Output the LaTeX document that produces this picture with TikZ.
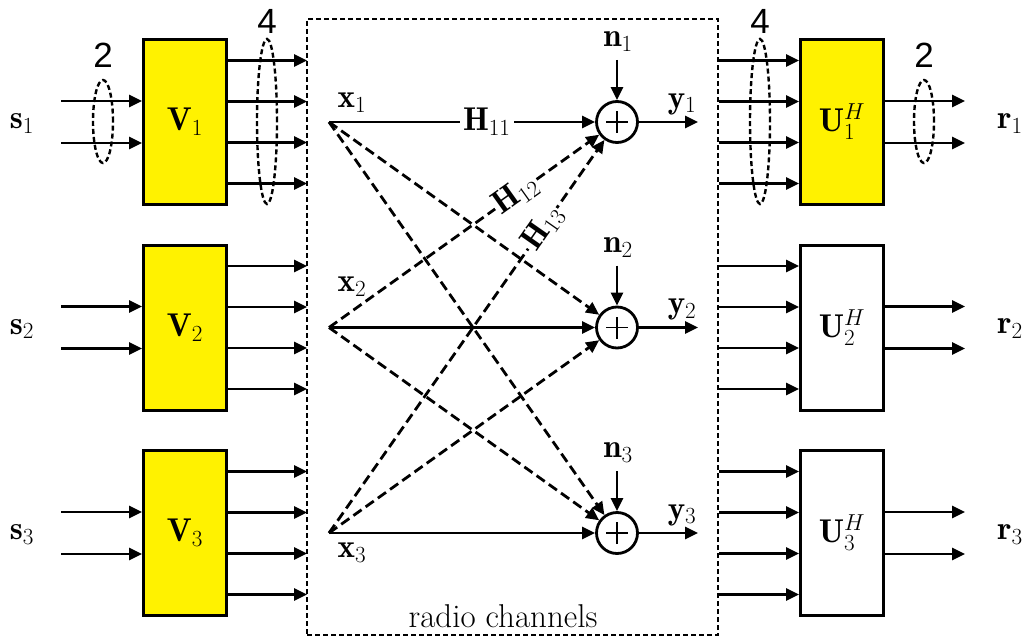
\RequirePackage{fix-cm}
\documentclass[tikz,border=0pt]{standalone}
\usepackage{fontspec}
\newfontfamily\numfont{Liberation Sans}
\usetikzlibrary{arrows.meta,shapes.geometric}
\begin{document}
\begin{tikzpicture}[x=1pt,y=-1pt,
  box/.style={draw, line width=3pt, minimum width=83pt, minimum height=165pt, inner sep=0pt, font=\fontsize{33}{38}\selectfont},
  vbox/.style={box, fill=yellow},
  arr/.style={line width=2.8pt, -{Triangle[length=13pt,width=12pt]}},
  darr/.style={arr, dash pattern=on 10pt off 5pt},
  lab/.style={inner sep=0pt, font=\fontsize{33}{38}\selectfont},
  hlab/.style={lab, fill=white, inner sep=3pt},
  sumnode/.style={circle, draw, line width=2.8pt, minimum size=41pt, inner sep=0pt},
  grp/.style={ellipse, draw, line width=2.4pt, dash pattern=on 5pt off 3pt, minimum width=20pt, inner sep=0pt},
  num/.style={inner sep=0pt, font=\numfont\fontsize{35}{40}\selectfont},
  chanbox/.style={draw, line width=2.6pt, dash pattern=on 5pt off 3pt, minimum width=411pt, minimum height=616pt, inner sep=0pt}
]
\useasboundingbox (0,0) rectangle (1027,639);

% channel box
\node[chanbox] (chan) at (512.5,327) {};
\node[lab, anchor=base] (rc) at (503,627) {radio channels};

\foreach \i/\y in {1/122,2/327.5,3/533}{
  % precoders and decoders
  \node[vbox] (V\i) at (185,\y) {$\mathbf{V}_{\i}$};
  \node[box] (U\i) at (842,\y) {$\mathbf{U}_{\i}^{H}$};
  % source inputs
  \node[lab] (s\i) at (22,\y+1.5) {$\mathbf{s}_{\i}$};
  \coordinate (sa\i) at (61,\y-21);
  \coordinate (sb\i) at (61,\y+21);
  \draw[arr] (sa\i) -- (sa\i -| V\i.west);
  \draw[arr] (sb\i) -- (sb\i -| V\i.west);
  % receiver outputs
  \node[lab] (r\i) at (1010,\y+1.5) {$\mathbf{r}_{\i}$};
  \coordinate (ra\i) at (965,\y-21);
  \coordinate (rb\i) at (965,\y+21);
  \draw[arr] (ra\i -| U\i.east) -- (ra\i);
  \draw[arr] (rb\i -| U\i.east) -- (rb\i);
  % 4 antenna streams
  \foreach \k [count=\j] in {-61.5,-20.5,20.5,61.5}{
    \coordinate (vo\i\j) at (307,\y+\k);
    \draw[arr] (vo\i\j -| V\i.east) -- (vo\i\j);
    \coordinate (ui\i\j) at (719,\y+\k);
    \draw[arr] (ui\i\j) -- (ui\i\j -| U\i.west);
  }
  % channel nodes
  \coordinate (x\i) at (329,\y);
  \node[sumnode] (S\i) at (617,\y) {};
  \draw[line width=1.2pt] ([xshift=-11pt]S\i.center) -- ([xshift=11pt]S\i.center);
  \draw[line width=1.2pt] ([yshift=-11pt]S\i.center) -- ([yshift=11pt]S\i.center);
  \node[lab] (n\i) at (618,\y-80) {$\mathbf{n}_{\i}$};
  \coordinate (na\i) at (617,\y-62);
  \draw[arr] (na\i) -- (S\i.north);
  \coordinate (yo\i) at (698,\y);
  \draw[arr] (S\i.east) -- (yo\i);
  \node[lab] (y\i) at (682,\y-18) {$\mathbf{y}_{\i}$};
}
\node[fill=yellow, draw, line width=3pt, minimum width=83pt, minimum height=165pt, inner sep=0pt, font=\fontsize{33}{38}\selectfont] (U1f) at (842,122) {$\mathbf{U}_{1}^{H}$};

\node[lab] (xl1) at (352,103) {$\mathbf{x}_{1}$};
\node[lab] (xl2) at (352,287) {$\mathbf{x}_{2}$};
\node[lab] (xl3) at (352,553) {$\mathbf{x}_{3}$};

% direct links
\draw[arr] (x1) -- node[hlab, pos=0.593] (h11) {$\mathbf{H}_{11}$} (S1);
\draw[arr] (x2) -- (S2);
\draw[arr] (x3) -- (S3);
% cross links
\draw[darr] (x1) -- (S2);
\draw[darr] (x1) -- (S3);
\draw[darr] (x2) -- node[hlab, inner sep=1pt, sloped, pos=0.69] (h12) {$\mathbf{H}_{12}$} (S1);
\draw[darr] (x2) -- (S3);
\draw[darr] (x3) -- node[hlab, inner sep=1pt, sloped, pos=0.775] (h13) {$\mathbf{H}_{13}$} (S1);
\draw[darr] (x3) -- (S2);

% grouping ellipses
\node[grp, minimum height=83pt] (e1) at (103,121.5) {};
\node[grp, minimum height=165pt] (e2) at (267,121.5) {};
\node[grp, minimum height=165pt] (e3) at (760,121.5) {};
\node[grp, minimum height=83pt] (e4) at (924,121.5) {};
\node[num] (g1) at (103,55) {2};
\node[num] (g2) at (267,21) {4};
\node[num] (g3) at (760,21) {4};
\node[num] (g4) at (924,55) {2};
\end{tikzpicture}
\end{document}
